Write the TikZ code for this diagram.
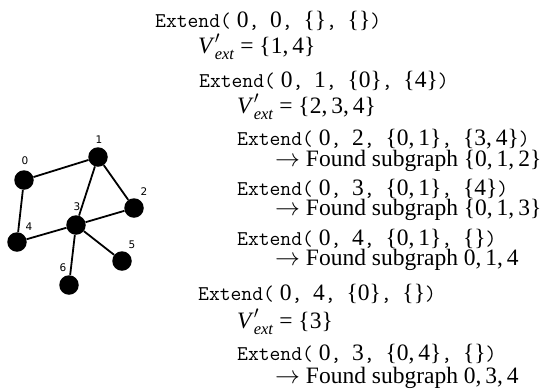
\documentclass[tikz,border=0pt]{standalone}
\usepackage{amsmath}
\usepackage{fontspec}
\setmainfont{Liberation Serif}
\newfontfamily\labelfont{DejaVu Sans}
\usetikzlibrary{positioning}
\tikzset {
  vertex/.style={circle,fill=black,minimum size=19.5pt,inner sep=0pt},
  vlabel/.style={font=\labelfont\fontsize{10.5}{11}\selectfont,inner sep=0pt},
  edge/.style={line width=1.8pt},
  trace/.style={anchor=base west,inner sep=0pt,font=\fontsize{23.5}{25}\selectfont},
}
\newcommand\tx[1]{{\fontsize{21}{22}\selectfont\ttfamily #1}}
\newcommand\Ext[4]{\tx{Extend(} #1\tx{, }#2\tx{, }#3\tx{, }#4\tx{)}}
\newcommand\Vx{\textit{V}$'_{\textit{ext}}$}
\newcommand\Found{$\rightarrow$ Found subgraph }

\begin{document}
\begin{tikzpicture}[x=1pt,y=-1pt]
      \useasboundingbox (0,0) rectangle (541,389);

      % graph
      \node[vertex] (v0) at (24,180) {};
      \node[vertex] (v1) at (98,157) {};
      \node[vertex] (v2) at (134,208) {};
      \node[vertex] (v3) at (76,225) {};
      \node[vertex] (v4) at (17,242) {};
      \node[vertex] (v5) at (122,261) {};
      \node[vertex] (v6) at (69,285) {};

      \draw[edge] (v0) -- (v1);
      \draw[edge] (v0) -- (v4);
      \draw[edge] (v1) -- (v3);
      \draw[edge] (v1) -- (v2);
      \draw[edge] (v3) -- (v2);
      \draw[edge] (v3) -- (v4);
      \draw[edge] (v3) -- (v5);
      \draw[edge] (v3) -- (v6);

      \node[vlabel] (l0) at (25,161) {0};
      \node[vlabel] (l1) at (99,140) {1};
      \node[vlabel] (l2) at (144,192) {2};
      \node[vlabel] (l3) at (77,207) {3};
      \node[vlabel] (l4) at (29,227) {4};
      \node[vlabel] (l5) at (132,245) {5};
      \node[vlabel] (l6) at (63,268) {6};

      % trace of the search
      \node[trace] (t1) at (155,27) {\Ext{0}{0}{\{\}}{\{\}}};
      \node[trace] (t2) at (198,53) {\Vx{} = \{1,\,4\}};
      \node[trace] (t3) at (199,87) {\Ext{0}{1}{\{0\}}{\{4\}}};
      \node[trace] (t4) at (237,113) {\Vx{} = \{2,\,3,\,4\}};
      \node[trace] (t5) at (237,145) {\Ext{0}{2}{\{0,\,1\}}{\{3,\,4\}}};
      \node[trace] (t6) at (275,166) {\Found\{0,\,1,\,2\}};
      \node[trace] (t7) at (237,195) {\Ext{0}{3}{\{0,\,1\}}{\{4\}}};
      \node[trace] (t8) at (275,215) {\Found\{0,\,1,\,3\}};
      \node[trace] (t9) at (237,245) {\Ext{0}{4}{\{0,\,1\}}{\{\}}};
      \node[trace] (t10) at (275,265) {\Found 0,\,1,\,4};
      \node[trace] (t11) at (198,300) {\Ext{0}{4}{\{0\}}{\{\}}};
      \node[trace] (t12) at (237,328) {\Vx{} = \{3\}};
      \node[trace] (t13) at (237,360) {\Ext{0}{3}{\{0,\,4\}}{\{\}}};
      \node[trace] (t14) at (275,383) {\Found 0,\,3,\,4};
    \end{tikzpicture}
\end{document}
